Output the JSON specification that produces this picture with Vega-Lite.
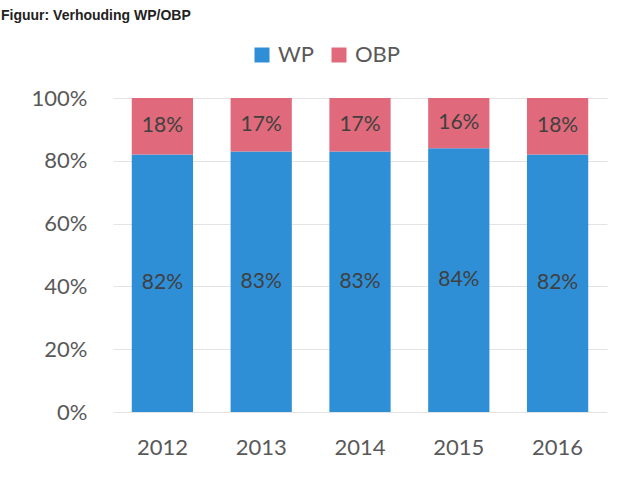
{
  "$schema": "https://vega.github.io/schema/vega-lite/v6.json",
  "autosize": {"type": "none"},
  "width": 494,
  "height": 314,
  "padding": {"left": 113, "top": 98, "right": 25, "bottom": 91},
  "background": "white",
  "title": {
    "text": "Figuur: Verhouding WP/OBP",
    "anchor": "start",
    "frame": "group",
    "font": "Liberation Sans",
    "fontSize": 14,
    "fontWeight": "bold",
    "color": "#222222",
    "baseline": "alphabetic",
    "dx": -112,
    "dy": -10,
    "offset": 0
  },
  "data": {
    "values": [
      {"year": "2012", "type": "WP", "share": 0.82},
      {"year": "2012", "type": "OBP", "share": 0.18},
      {"year": "2013", "type": "WP", "share": 0.83},
      {"year": "2013", "type": "OBP", "share": 0.17},
      {"year": "2014", "type": "WP", "share": 0.83},
      {"year": "2014", "type": "OBP", "share": 0.17},
      {"year": "2015", "type": "WP", "share": 0.84},
      {"year": "2015", "type": "OBP", "share": 0.16},
      {"year": "2016", "type": "WP", "share": 0.82},
      {"year": "2016", "type": "OBP", "share": 0.18}
    ]
  },
  "transform": [
    {"stack": "share", "groupby": ["year"], "sort": [{"field": "type", "order": "descending"}], "as": ["s0", "s1"]},
    {"calculate": "(datum.s0 + datum.s1) / 2", "as": "mid"}
  ],
  "encoding": {
    "x": {
      "field": "year",
      "type": "nominal",
      "scale": {"paddingInner": 0.38, "paddingOuter": 0.19},
      "axis": {
        "title": null,
        "labelAngle": 0,
        "domain": false,
        "ticks": false,
        "labelFont": "Lato",
        "labelFontSize": 22,
        "labelColor": "#595959",
        "labelPadding": 25
      }
    }
  },
  "layer": [
    {
      "mark": {"type": "bar"},
      "encoding": {
        "y": {
          "field": "s0",
          "type": "quantitative",
          "scale": {"domain": [0, 1]},
          "axis": {
            "title": null,
            "values": [0, 0.2, 0.4, 0.6, 0.8, 1],
            "format": ".0%",
            "domain": false,
            "ticks": false,
            "grid": true,
            "gridColor": "#E3E3E3",
            "labelFont": "Lato",
            "labelFontSize": 22,
            "labelColor": "#595959",
            "labelPadding": 26
          }
        },
        "y2": {"field": "s1"},
        "color": {
          "field": "type",
          "type": "nominal",
          "scale": {"domain": ["WP", "OBP"], "range": ["#2E8FD7", "#E06A7B"]},
          "legend": {
            "title": null,
            "orient": "none",
            "direction": "horizontal",
            "legendX": 138,
            "legendY": -54,
            "symbolType": "square",
            "symbolSize": 225,
            "symbolStrokeWidth": 0,
            "labelFont": "Lato",
            "labelFontSize": 22,
            "labelColor": "#595959",
            "labelOffset": 5,
            "columnPadding": 14
          }
        }
      }
    },
    {
      "mark": {"type": "text", "font": "Lato", "fontSize": 21, "color": "#404040"},
      "encoding": {
        "y": {"field": "mid", "type": "quantitative"},
        "text": {"field": "share", "type": "quantitative", "format": ".0%"}
      }
    }
  ],
  "config": {
    "view": {"stroke": null}
  }
}
